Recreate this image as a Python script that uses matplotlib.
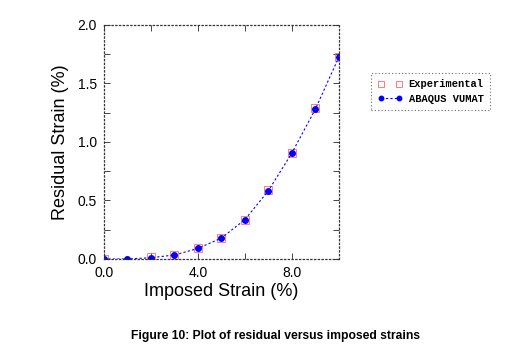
import numpy as np
import matplotlib.pyplot as plt
from matplotlib.ticker import FixedLocator

# Imposed strain (%) and residual strain (%)
strain = [0, 1, 2, 3, 4, 5, 6, 7, 8, 9, 10]
vumat = [0.0, 0.0, 0.011, 0.034, 0.09, 0.179, 0.336, 0.583, 0.905, 1.28, 1.724]
exp_strain = [0, 2, 3, 4, 5, 6, 7, 8, 9, 10]
experimental = [0.0, 0.015, 0.035, 0.095, 0.18, 0.335, 0.59, 0.91, 1.29, 1.73]

xticks = [0, 4, 8]
xtick_labels = ['0.0', '4.0', '8.0']
yticks = [0.0, 0.5, 1.0, 1.5, 2.0]
ytick_labels = ['0.0', '0.5', '1.0', '1.5', '2.0']

fig = plt.figure(figsize=(5.09, 3.56), dpi=100)
ax = fig.add_axes([0.2043, 0.2725, 0.4613, 0.6573])

ax.plot(exp_strain, experimental, linestyle='none', marker='s', markersize=6,
        markerfacecolor='none', markeredgecolor=(1, 0.35, 0.35, 0.8),
        markeredgewidth=0.7, label='Experimental')
ax.plot(strain, vumat, color='blue', linestyle=(0, (2, 2)), linewidth=0.8,
        marker='o', markersize=4, markerfacecolor='blue', markeredgecolor='blue',
        label='ABAQUS VUMAT')

ax.set_xlim(0, 10)
ax.set_ylim(0, 2.0)
ax.xaxis.set_major_locator(FixedLocator(xticks))
ax.xaxis.set_minor_locator(FixedLocator([2, 6]))
ax.yaxis.set_major_locator(FixedLocator(yticks))
ax.yaxis.set_minor_locator(FixedLocator([0.25, 0.75, 1.25, 1.75]))
ax.set_xticklabels(xtick_labels)
ax.set_yticklabels(ytick_labels)

for s in ax.spines.values():
    s.set_linestyle((0, (1, 2)))
    s.set_linewidth(0.9)
    s.set_color('#333333')
ax.tick_params(which='both', direction='in', top=True, right=True,
               color='#444444', width=0.7, labelsize=10)
ax.tick_params(which='major', length=4, pad=5)
ax.tick_params(which='minor', length=4)
for lab in ax.get_xticklabels() + ax.get_yticklabels():
    lab.set_family('Liberation Sans')

ax.set_xlabel('Imposed Strain (%)', fontsize=13, family='Liberation Sans', labelpad=2)
ax.set_ylabel('Residual Strain (%)', fontsize=13, family='Liberation Sans', labelpad=6)

leg = fig.legend(loc='upper left', bbox_to_anchor=(0.719, 0.809), numpoints=2,
                 prop={'family': 'Liberation Mono', 'weight': 'bold', 'size': 7.5},
                 frameon=True, fancybox=False, handlelength=2.4, markerscale=0.8,
                 borderpad=0.6, labelspacing=0.4, handletextpad=0.6)
leg.get_frame().set_linestyle((0, (1, 2)))
leg.get_frame().set_edgecolor('#444444')
leg.get_frame().set_linewidth(0.8)

fig.text(0.542, 0.056, 'Figure 10: Plot of residual versus imposed strains',
         ha='center', va='center', fontsize=8.7, fontweight='bold',
         family='Liberation Sans')

fig.savefig('out.png', dpi=100)
